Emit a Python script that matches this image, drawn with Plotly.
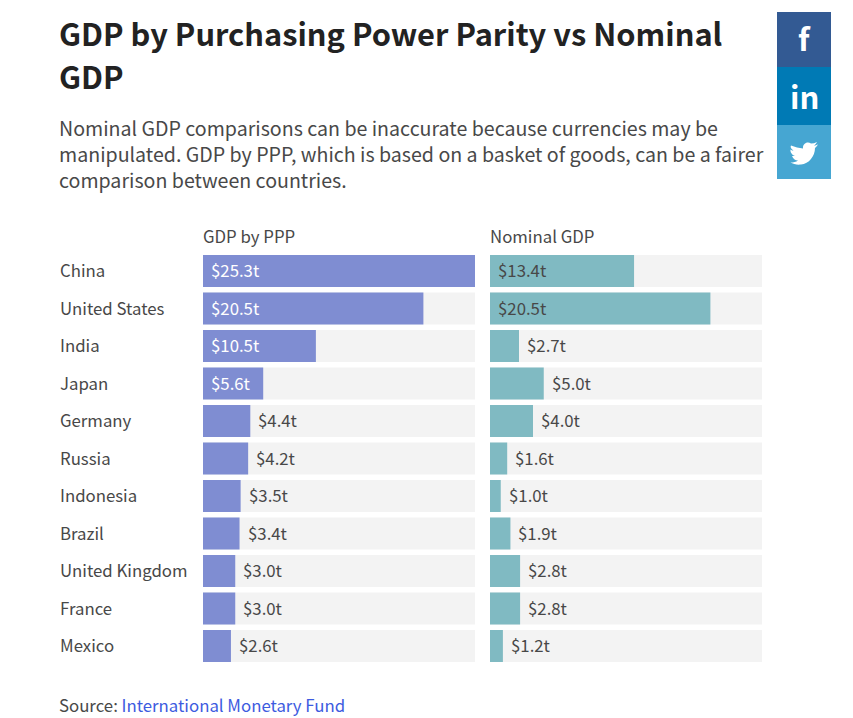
import plotly.graph_objects as go

countries = ["China", "United States", "India", "Japan", "Germany", "Russia",
             "Indonesia", "Brazil", "United Kingdom", "France", "Mexico"]
gdp_ppp = [25.3, 20.5, 10.5, 5.6, 4.4, 4.2, 3.5, 3.4, 3.0, 3.0, 2.6]
gdp_nominal = [13.4, 20.5, 2.7, 5.0, 4.0, 1.6, 1.0, 1.9, 2.8, 2.8, 1.2]
headers = ["GDP by PPP", "Nominal GDP"]
title_lines = ["GDP by Purchasing Power Parity vs Nominal", "GDP"]
subtitle_lines = [
    "Nominal GDP comparisons can be inaccurate because currencies may be",
    "manipulated. GDP by PPP, which is based on a basket of goods, can be a fairer",
    "comparison between countries.",
]

W, H = 853, 718
FONT = "Noto Sans CJK SC"
TEXT = "#484848"
TRACK = "#f3f3f3"
LABEL_SIZE = 16.8
scale_max = max(gdp_ppp)


def px(x):
    return x / W


def py(y):
    return 1 - y / H


fig = go.Figure()
annotations = []


def note(x, y, text, size=LABEL_SIZE, color=TEXT):
    annotations.append(dict(x=px(x), y=py(y), xref="paper", yref="paper", text=text,
                            showarrow=False, xanchor="left", yanchor="middle", align="left",
                            font=dict(family=FONT, size=size, color=color), borderpad=0))


panels = [
    (gdp_ppp, "#7f8dd2", "x", "y", "#ffffff"),
    (gdp_nominal, "#80bac2", "x2", "y2", TEXT),
]
for values, color, xa, ya, inside_color in panels:
    fig.add_trace(go.Bar(y=countries, x=[scale_max] * len(countries), orientation="h",
                         marker=dict(color=TRACK, line_width=0), xaxis=xa, yaxis=ya,
                         hoverinfo="skip", showlegend=False))
    fig.add_trace(go.Bar(y=countries, x=values, orientation="h",
                         marker=dict(color=color, line_width=0), xaxis=xa, yaxis=ya,
                         showlegend=False))
    for c, v in zip(countries, values):
        inside = v >= 5.6 if xa == "x" else v >= 13
        annotations.append(dict(x=0 if inside else v, y=c, xref=xa, yref=ya,
                                text=f"${v:.1f}t", showarrow=False, xanchor="left",
                                xshift=7, yshift=1, borderpad=0,
                                font=dict(family=FONT, size=LABEL_SIZE,
                                          color=inside_color if inside else TEXT)))

for c in countries:
    annotations.append(dict(x=px(59), y=c, xref="paper", yref="y", text=c, showarrow=False,
                            xanchor="left", yshift=1, borderpad=0,
                            font=dict(family=FONT, size=LABEL_SIZE, color=TEXT)))

note(202, 236, headers[0])
note(489, 236, headers[1])

for i, line in enumerate(title_lines):
    note(58, 33 + i * 43, f"<b>{line}</b>", size=30.8, color="#222222")
for i, line in enumerate(subtitle_lines):
    note(58, 127.5 + i * 26, line, size=19.6)
note(58, 704.5, 'Source: <span style="color:#3d5be0">International Monetary Fund</span>')

# share buttons
shapes = []
for y0, y1, col in [(12, 67, "#335a93"), (67, 125, "#007ab5"), (125, 179, "#46a6d2")]:
    shapes.append(dict(type="rect", xref="paper", yref="paper", x0=px(777), x1=px(831),
                       y0=py(y1), y1=py(y0), fillcolor=col, line_width=0, layer="below"))
# twitter bird icon, pixel path relative to the button centre (y upwards)
bird = ("M -13 6.5 C -9 5 -5 4 -1 3.5 C -1.5 8 3 11 7 8.5 C 9 8.5 11 9 13 10 "
        "C 12 8 11 7 10 6.5 C 11.5 6.5 12.5 7 14 7.5 C 13 6 12 5 11 4 "
        "C 11 -4 5 -12 -3 -12.5 C -7 -13 -11 -12 -13.5 -10.5 C -10.5 -10.5 -8 -10 -6 -8.5 "
        "C -9 -8.5 -11 -6.5 -12 -4 C -11 -4 -10 -4 -9 -4 C -12 -3 -14 0 -13.5 2.5 "
        "C -13 2 -12 1.5 -10.5 1.5 C -13 3 -14 5 -13 6.5 Z")
shapes.append(dict(type="path", xref="paper", yref="paper", xsizemode="pixel", ysizemode="pixel",
                   xanchor=px(804), yanchor=py(152), path=bird,
                   fillcolor="#ffffff", line_width=0, layer="above"))
for x, y, t, s in [(804, 38, "f", 31), (804, 95, "in", 31)]:
    annotations.append(dict(x=px(x), y=py(y), xref="paper", yref="paper", text=f"<b>{t}</b>",
                            showarrow=False, xanchor="center", yanchor="middle", borderpad=0,
                            font=dict(family=FONT, size=s, color="#ffffff")))

top, bottom = 252.25, 664.75
yax = dict(type="category", categoryorder="array", categoryarray=countries, autorange=False,
           range=[10.5, -0.5], domain=[py(bottom), py(top)], showticklabels=False,
           showgrid=False, zeroline=False, showline=False, ticks="")
xax = dict(range=[0, scale_max], showticklabels=False, showgrid=False, zeroline=False,
           showline=False, ticks="")

fig.update_layout(
    width=W, height=H, autosize=False, margin=dict(l=0, r=0, t=0, b=0),
    paper_bgcolor="#ffffff", plot_bgcolor="#ffffff", barmode="overlay", bargap=5.5 / 37.5,
    xaxis=dict(domain=[px(203), px(475)], anchor="y", **xax),
    xaxis2=dict(domain=[px(490), px(762)], anchor="y2", **xax),
    yaxis=dict(anchor="x", **yax),
    yaxis2=dict(anchor="x2", **yax),
    annotations=annotations, shapes=shapes, showlegend=False,
    font=dict(family=FONT, color=TEXT),
)
fig.write_html("out.html", config=dict(displayModeBar=False),
               post_script="document.body.style.margin='0';document.documentElement.style.overflow='hidden';")
